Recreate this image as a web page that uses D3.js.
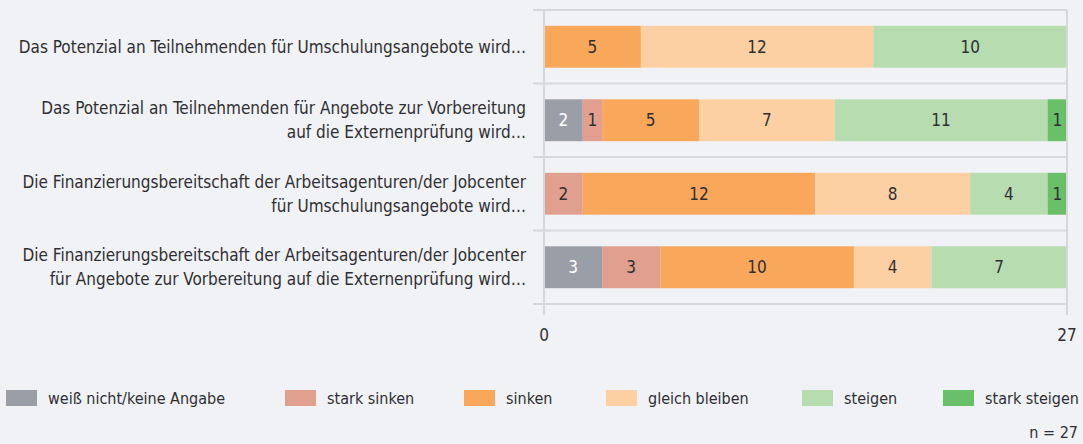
<!DOCTYPE html>
<html>
<head>
<meta charset="utf-8">
<script src="https://cdn.jsdelivr.net/npm/d3@7"></script>
<style>
  html, body { margin: 0; padding: 0; background: #f1f2f6; }
  svg { display: block; }
  text { font-family: "Liberation Sans Narrow", "DejaVu Sans Condensed", "Roboto Condensed", "Open Sans", sans-serif; font-stretch: condensed; fill: #2f2f33; }
</style>
</head>
<body>
<div id="chart"></div>
<script>
// questions (label lines)
var questions = [
  ["Das Potenzial an Teilnehmenden für Umschulungsangebote wird…"],
  ["Das Potenzial an Teilnehmenden für Angebote zur Vorbereitung", "auf die Externenprüfung wird…"],
  ["Die Finanzierungsbereitschaft der Arbeitsagenturen/der Jobcenter", "für Umschulungsangebote wird…"],
  ["Die Finanzierungsbereitschaft der Arbeitsagenturen/der Jobcenter", "für Angebote zur Vorbereitung auf die Externenprüfung wird…"]
];

var seriesNames = ["weiß nicht/keine Angabe", "stark sinken", "sinken", "gleich bleiben", "steigen", "stark steigen"];
var seriesColors = ["#9a9ea7", "#e09f8f", "#f9a75b", "#fdd0a3", "#b6dcb0", "#6abf69"];

var weissNicht   = [0, 2, 0, 3];
var starkSinken  = [0, 1, 2, 3];
var sinken       = [5, 5, 12, 10];
var gleich       = [12, 7, 8, 4];
var steigen      = [10, 11, 4, 7];
var starkSteigen = [0, 1, 1, 0];

var xTicks = [0, 27];
var nLabel = "n = 27";

var width = 1083, height = 444;
var svg = d3.select("#chart").append("svg")
  .attr("width", width)
  .attr("height", height);

var x = d3.scaleLinear().domain([0, 27]).range([544, 1067]);
var y = d3.scaleBand().domain(d3.range(questions.length)).range([10, 304])
  .paddingInner(0.43).paddingOuter(0.215);

// build table for the stack
var table = questions.map(function(q, i) {
  return {
    i: i,
    s0: weissNicht[i], s1: starkSinken[i], s2: sinken[i],
    s3: gleich[i], s4: steigen[i], s5: starkSteigen[i]
  };
});
var keys = ["s0", "s1", "s2", "s3", "s4", "s5"];
var stacked = d3.stack().keys(keys)(table);

// row separators
var step = y.step();
svg.append("g").selectAll("line")
  .data(d3.range(questions.length + 1))
  .enter().append("line")
  .attr("x1", 533).attr("x2", x(27))
  .attr("y1", d => 10 + d * step)
  .attr("y2", d => 10 + d * step)
  .attr("stroke", "#d6d7db")
  .attr("stroke-width", 2);

// bars
var layer = svg.append("g").selectAll("g")
  .data(stacked)
  .enter().append("g")
  .attr("fill", (d, i) => seriesColors[i]);

layer.selectAll("rect")
  .data(d => d.filter(v => v[1] - v[0] > 0))
  .enter().append("rect")
  .attr("x", d => x(d[0]))
  .attr("width", d => x(d[1]) - x(d[0]))
  .attr("y", d => y(d.data.i))
  .attr("height", y.bandwidth());

// value labels
stacked.forEach(function(s, k) {
  svg.append("g").selectAll("text")
    .data(s.filter(v => v[1] - v[0] > 0))
    .enter().append("text")
    .attr("x", d => (x(d[0]) + x(d[1])) / 2)
    .attr("y", d => y(d.data.i) + y.bandwidth() / 2)
    .attr("dy", "0.35em")
    .attr("text-anchor", "middle")
    .style("font-size", "17px")
    .style("fill", k === 0 ? "#ffffff" : "#2f2f33")
    .text(d => d[1] - d[0]);
});

// axis lines
svg.append("line")
  .attr("x1", x(0)).attr("x2", x(0))
  .attr("y1", 10).attr("y2", 315)
  .attr("stroke", "#d6d7db").attr("stroke-width", 2);
svg.append("line")
  .attr("x1", x(27)).attr("x2", x(27))
  .attr("y1", 10).attr("y2", 315)
  .attr("stroke", "#d6d7db").attr("stroke-width", 2);

// tick labels
svg.append("g").selectAll("text")
  .data(xTicks)
  .enter().append("text")
  .attr("x", d => x(d))
  .attr("y", 335)
  .attr("dy", "0.35em")
  .attr("text-anchor", "middle")
  .style("font-size", "17px")
  .text(d => d);

// category labels
var lab = svg.append("g").selectAll("text")
  .data(questions)
  .enter().append("text")
  .attr("text-anchor", "end")
  .style("font-size", "17px");
lab.each(function(lines, i) {
  var cy = y(i) + y.bandwidth() / 2;
  var lh = 24;
  var top = cy - (lines.length - 1) * lh / 2;
  d3.select(this).selectAll("tspan")
    .data(lines)
    .enter().append("tspan")
    .attr("x", 526)
    .attr("y", (d, j) => top + j * lh)
    .attr("dy", "0.35em")
    .text(d => d);
});

// legend
var legendX = [6, 285, 464, 606, 802, 943];
var legend = svg.append("g").selectAll("g")
  .data(seriesNames)
  .enter().append("g")
  .attr("transform", (d, i) => "translate(" + legendX[i] + ",390)");
legend.append("rect")
  .attr("width", 31).attr("height", 16)
  .attr("fill", (d, i) => seriesColors[i]);
legend.append("text")
  .attr("x", 42).attr("y", 8)
  .attr("dy", "0.35em")
  .style("font-size", "16px")
  .text(d => d);

svg.append("text")
  .attr("x", 1078).attr("y", 432)
  .attr("dy", "0.35em")
  .attr("text-anchor", "end")
  .style("font-size", "16px")
  .text(nLabel);
</script>
</body>
</html>
